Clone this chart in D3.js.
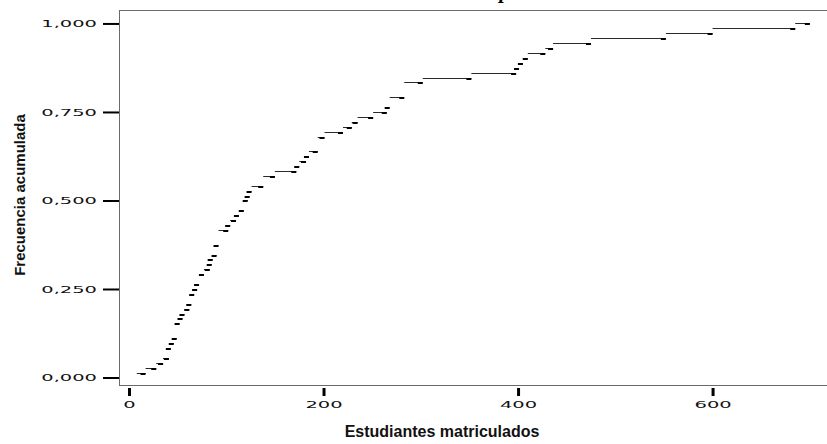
<!DOCTYPE html>
<html>
<head>
<meta charset="utf-8">
<script src="https://cdn.jsdelivr.net/npm/d3@7"></script>
<style>
  body { margin: 0; background: #fff; }
  svg { display: block; }
</style>
</head>
<body>
<svg id="chart" width="827" height="444"></svg>
<script>
// Breakpoints of the cumulative step function (students enrolled)
const estudiantes = [8, 17, 28, 35, 41, 43, 46, 49, 52, 55, 57, 62, 64, 67, 70, 72, 77, 83, 85, 86,
  90, 92, 102, 104, 110, 113, 118, 122, 124, 126, 138, 150, 172, 175, 182, 185, 194, 201, 220, 229,
  235, 251, 265, 268, 283, 302, 352, 398, 401, 405, 410, 428, 436, 475, 552, 600, 685, 700];

// Cumulative frequency held on each step: step i runs from estudiantes[i] to estudiantes[i + 1]
const frecAcumulada = [0.0139, 0.0278, 0.0417, 0.0556, 0.0833, 0.0972, 0.1111, 0.1528, 0.1667, 0.1806,
  0.1944, 0.2083, 0.2361, 0.2500, 0.2639, 0.2917, 0.3056, 0.3194, 0.3333, 0.3472, 0.3750, 0.4167,
  0.4306, 0.4444, 0.4583, 0.4722, 0.5000, 0.5139, 0.5278, 0.5417, 0.5694, 0.5833, 0.5972, 0.6111,
  0.6250, 0.6389, 0.6806, 0.6944, 0.7083, 0.7222, 0.7361, 0.7500, 0.7639, 0.7917, 0.8333, 0.8472,
  0.8611, 0.8750, 0.8889, 0.9028, 0.9167, 0.9306, 0.9444, 0.9583, 0.9722, 0.9861, 1.0000];

const xTicks = [0, 200, 400, 600];
const yTicks = [0, 0.25, 0.5, 0.75, 1];

const titulo = "Distribución empírica";
const tituloX = "Estudiantes matriculados";
const tituloY = "Frecuencia acumulada";

// ---- layout ----
const W = 827, H = 444;
const plot = { left: 119, top: 10, right: 839, bottom: 386 };

const svg = d3.select("#chart");

const x = d3.scaleLinear().domain([-10.3, 730]).range([plot.left, plot.right]);
const y = d3.scaleLinear().domain([-0.024, 1.038]).range([plot.bottom, plot.top]);

// Spanish number format: decimal comma, three decimals
const es = d3.formatLocale({ decimal: ",", thousands: ".", grouping: [3], currency: ["", " €"] });
const fmtY = es.format(".3f");

// ---- frame ----
const frame = svg.append("g").attr("stroke", "#6a6a6a").attr("stroke-width", 1);
frame.append("line").attr("x1", plot.left + 0.5).attr("x2", plot.left + 0.5)
  .attr("y1", plot.top).attr("y2", plot.bottom);
frame.append("line").attr("x1", plot.left).attr("x2", W)
  .attr("y1", plot.top + 0.5).attr("y2", plot.top + 0.5);
frame.append("line").attr("x1", plot.left).attr("x2", W)
  .attr("y1", plot.bottom - 0.5).attr("y2", plot.bottom - 0.5);

// ---- axes ----
const labelFont = "'DejaVu Sans', sans-serif";
const stretch = 2.05;

const gy = svg.append("g").attr("transform", `translate(${plot.left},0)`)
  .call(d3.axisLeft(y).tickValues(yTicks).tickFormat(fmtY).tickSize(16).tickSizeOuter(0));
gy.select(".domain").remove();
gy.selectAll(".tick line").attr("stroke", "#000").attr("stroke-width", 2);
gy.selectAll(".tick text")
  .attr("font-family", labelFont).attr("font-size", 9.5).attr("fill", "#111")
  .attr("x", -22 / stretch).attr("dy", "0.36em")
  .attr("transform", `scale(${stretch},1)`);

const gx = svg.append("g").attr("transform", `translate(0,${plot.bottom})`)
  .call(d3.axisBottom(x).tickValues(xTicks).tickFormat(d3.format("d")).tickSize(10).tickSizeOuter(0));
gx.select(".domain").remove();
gx.selectAll(".tick line").attr("stroke", "#000").attr("stroke-width", 3).attr("y1", 2);
gx.selectAll(".tick text")
  .attr("font-family", labelFont).attr("font-size", 9.5).attr("fill", "#111")
  .attr("y", 22).attr("dy", 0)
  .attr("transform", `scale(${stretch},1)`);

// ---- step function ----
const steps = frecAcumulada.map((f, i) => ({ x0: estudiantes[i], x1: estudiantes[i + 1], f }));

const gs = svg.append("g");
gs.selectAll("line.tramo").data(steps).join("line")
  .attr("class", "tramo")
  .attr("x1", d => x(d.x0)).attr("x2", d => x(d.x1))
  .attr("y1", d => Math.round(y(d.f)) + 0.5).attr("y2", d => Math.round(y(d.f)) + 0.5)
  .attr("stroke", "#2a2a2a").attr("stroke-width", 1);

gs.selectAll("rect.salto").data(steps).join("rect")
  .attr("class", "salto")
  .attr("x", d => x(d.x1) - 5).attr("width", 5)
  .attr("y", d => Math.round(y(d.f))).attr("height", 2)
  .attr("fill", "#000");

// ---- titles (the chart title sits mostly above the visible area) ----
svg.append("text")
  .attr("x", 455).attr("y", -2)
  .attr("text-anchor", "middle")
  .attr("font-family", "'Liberation Serif', serif")
  .attr("font-style", "italic").attr("font-weight", "bold")
  .attr("font-size", 21).attr("fill", "#000")
  .text(titulo);

svg.append("text")
  .attr("x", 442).attr("y", 437)
  .attr("text-anchor", "middle")
  .attr("font-family", "'Liberation Sans', Arial, sans-serif")
  .attr("font-weight", "bold").attr("font-size", 16).attr("fill", "#111")
  .text(tituloX);

svg.append("text")
  .attr("transform", "translate(25,195) rotate(-90)")
  .attr("text-anchor", "middle")
  .attr("font-family", "'Liberation Sans', Arial, sans-serif")
  .attr("font-weight", "bold").attr("font-size", 15).attr("fill", "#111")
  .text(tituloY);
</script>
</body>
</html>
